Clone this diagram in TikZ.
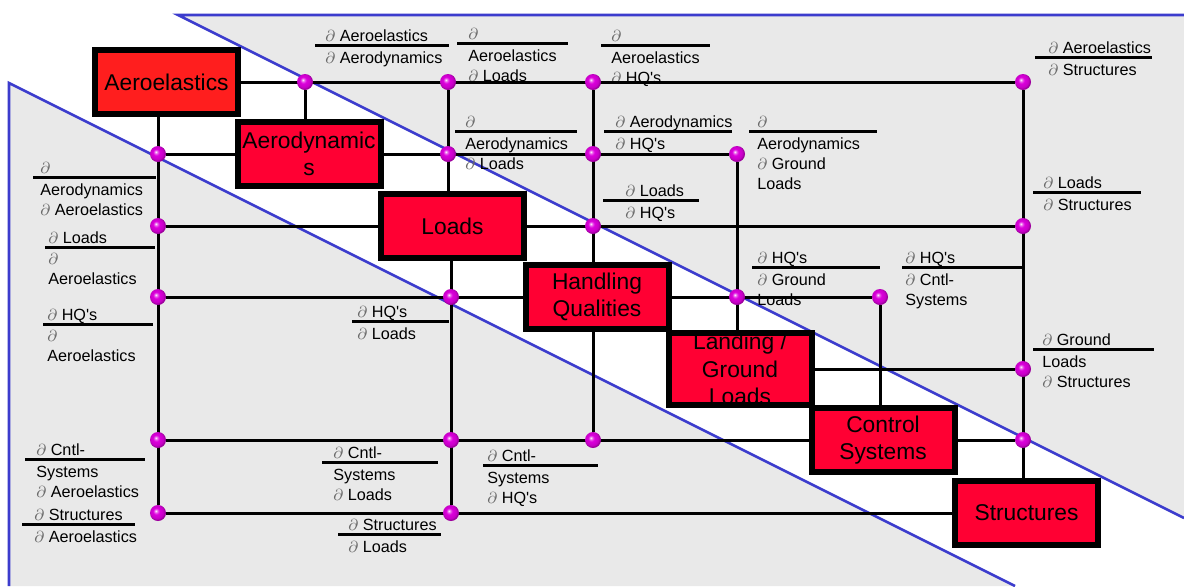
\documentclass[tikz,border=0pt]{standalone}
\usepackage{fontspec}
\setmainfont{Liberation Sans}
\usetikzlibrary{positioning}

\definecolor{sheetgray}{RGB}{233,233,233}
\definecolor{edgeblue}{RGB}{60,60,205}
\definecolor{aerored}{RGB}{255,30,30}
\definecolor{blockred}{RGB}{255,0,51}
\definecolor{dotpink}{RGB}{220,0,220}
\definecolor{partgray}{RGB}{105,105,105}

\pgfdeclareradialshading{jointball}{\pgfpoint{-7bp}{7bp}}{%
  color(0bp)=(white); color(4bp)=(dotpink!55!white); color(10bp)=(dotpink);
  color(21bp)=(dotpink!90!black); color(25bp)=(dotpink!70!black);
  color(50bp)=(dotpink!70!black)}

\pgfdeclarelayer{back}
\pgfdeclarelayer{wires}
\pgfsetlayers{back,wires,main}

\newcommand{\dpart}{\textcolor{partgray}{$\partial$}}
\newcommand{\HQs}{HQ\textquotesingle s}
% bar from #2 to #3 at height #4, text starting at #5
\newcommand{\pdlabel}[7]{%
  \draw[fracbar] (#2,#4) -- (#3,#4);
  \node[pdnum] (#1n) at (#5,#4) {#6};
  \node[pdden] (#1d) at (#5,#4) {#7};}

\begin{document}
\begin{tikzpicture}[x=0.5pt, y=-0.5pt,
    block/.style={draw=black, line width=3pt, fill=blockred, minimum width=71.5pt,
      minimum height=32.3pt, inner sep=0pt, align=center,
      font=\fontsize{11.4}{13.8}\selectfont},
    wire/.style={line width=1.5pt},
    joint/.style={circle, inner sep=0pt, minimum size=8pt, shading=jointball},
    fracbar/.style={line width=1.5pt},
    pdnum/.style={anchor=base west, inner sep=0pt, yshift=1.6pt, font=\fontsize{8.1}{10}\selectfont},
    pdden/.style={anchor=north west, inner sep=0pt, yshift=-3.2pt, align=left,
      font=\fontsize{8.1}{10}\selectfont},
    rim/.style={draw=edgeblue, line width=1.3pt}]
  \useasboundingbox (0,0) rectangle (1184,586);

  % the disciplines
  \node[block, fill=aerored] (aer) at (166.5,82) {Aeroelastics};
  \node[block] (aerd) at (309,154) {Aerodynamic\\s};
  \node[block] (loads) at (452.5,226) {Loads};
  \node[block] (hq) at (597,297) {Handling\\Qualities};
  \node[block] (land) at (740,369) {Landing /\\Ground\\Loads};
  \node[block] (ctrl) at (883,440) {Control\\Systems};
  \node[block] (struct) at (1026.5,513) {Structures};

  % couplings above the diagonal
  \node[joint] (j01) at (305,82) {};
  \node[joint] (j02) at (448,82) {};
  \node[joint] (j03) at (593,82) {};
  \node[joint] (j06) at (1023,82) {};
  \node[joint] (j12) at (448,154) {};
  \node[joint] (j13) at (593,154) {};
  \node[joint] (j14) at (737,154) {};
  \node[joint] (j23) at (593,226) {};
  \node[joint] (j26) at (1023,226) {};
  \node[joint] (j34) at (737,297) {};
  \node[joint] (j35) at (880,297) {};
  \node[joint] (j46) at (1023,369) {};
  \node[joint] (j56) at (1023,440) {};
  % couplings below the diagonal
  \node[joint] (j10) at (158,154) {};
  \node[joint] (j20) at (158,226) {};
  \node[joint] (j30) at (158,297) {};
  \node[joint] (j32) at (451,297) {};
  \node[joint] (j50) at (158,440) {};
  \node[joint] (j52) at (451,440) {};
  \node[joint] (j53) at (593,440) {};
  \node[joint] (j60) at (158,513) {};
  \node[joint] (j62) at (451,513) {};

  \begin{pgfonlayer}{back}
    \fill[sheetgray] (178,15) -- (1184,15) -- (1184,518) -- cycle;
    \fill[sheetgray] (9,83) -- (1015,586) -- (9,586) -- cycle;
    \draw[rim] (1184,15) -- (178,15) -- (1184,518);
    \draw[rim] (9,586) -- (9,83) -- (1015,586);

    \pdlabel{l01}{315}{449}{45}{325}{\dpart{} Aeroelastics}{\dpart{} Aerodynamics}
    \pdlabel{l02}{457}{568}{43}{468}{\dpart}{Aeroelastics\\\dpart{} Loads}
    \pdlabel{l03}{601}{710}{45}{611}{\dpart}{Aeroelastics\\\dpart{} \HQs}
    \pdlabel{l06}{1035}{1152}{57}{1048}{\dpart{} Aeroelastics}{\dpart{} Structures}
    \pdlabel{l12}{455}{577}{131}{465}{\dpart}{Aerodynamics\\\dpart{} Loads}
    \pdlabel{l13}{604}{732}{131}{615}{\dpart{} Aerodynamics}{\dpart{} \HQs}
    \pdlabel{l14}{749}{877}{131}{757}{\dpart}{Aerodynamics\\\dpart{} Ground\\Loads}
    \pdlabel{l23}{603}{699}{200}{625}{\dpart{} Loads}{\dpart{} \HQs}
    \pdlabel{l26}{1033}{1141}{192}{1043}{\dpart{} Loads}{\dpart{} Structures}
    \pdlabel{l34}{752}{880}{267}{757}{\dpart{} \HQs}{\dpart{} Ground\\Loads}
    \pdlabel{l35}{902}{1023}{267}{905}{\dpart{} \HQs}{\dpart{} Cntl-\\Systems}
    \pdlabel{l46}{1033}{1154}{349}{1042}{\dpart{} Ground}{Loads\\\dpart{} Structures}
    \pdlabel{l10}{33}{156}{177}{40}{\dpart}{Aerodynamics\\\dpart{} Aeroelastics}
    \pdlabel{l20}{45}{155}{247}{48}{\dpart{} Loads}{\dpart\\Aeroelastics}
    \pdlabel{l30}{43}{153}{324}{47}{\dpart{} \HQs}{\dpart\\Aeroelastics}
    \pdlabel{l32}{352}{449}{321}{357}{\dpart{} \HQs}{\dpart{} Loads}
    \pdlabel{l50}{25}{145}{459}{36}{\dpart{} Cntl-}{Systems\\\dpart{} Aeroelastics}
    \pdlabel{l52}{322}{438}{462}{333}{\dpart{} Cntl-}{Systems\\\dpart{} Loads}
    \pdlabel{l53}{483}{598}{465}{487}{\dpart{} Cntl-}{Systems\\\dpart{} \HQs}
    \pdlabel{l60}{22}{135}{524}{34}{\dpart{} Structures}{\dpart{} Aeroelastics}
    \pdlabel{l62}{338}{441}{534}{348}{\dpart{} Structures}{\dpart{} Loads}
  \end{pgfonlayer}

  \begin{pgfonlayer}{wires}
    % feed forward
    \draw[wire] (aer.east) -- (j06);
    \draw[wire] (aerd.east) -- (j14);
    \draw[wire] (loads.east) -- (j26);
    \draw[wire] (hq.east) -- (j35);
    \draw[wire] (land.east) -- (j46);
    \draw[wire] (ctrl.east) -- (j56);
    \draw[wire] (j01) -- (j01 |- aerd.north);
    \draw[wire] (j02) -- (j02 |- loads.north);
    \draw[wire] (j03) -- (j03 |- hq.north);
    \draw[wire] (j14) -- (j14 |- land.north);
    \draw[wire] (j35) -- (j35 |- ctrl.north);
    \draw[wire] (j06) -- (j06 |- struct.north);
    % feed back
    \draw[wire] (j10) -- (aerd.west);
    \draw[wire] (j20) -- (loads.west);
    \draw[wire] (j30) -- (hq.west);
    \draw[wire] (j50) -- (ctrl.west);
    \draw[wire] (j60) -- (struct.west);
    \draw[wire] (aer.south -| j60) -- (j60);
    \draw[wire] (loads.south -| j62) -- (j62);
    \draw[wire] (hq.south -| j53) -- (j53);
  \end{pgfonlayer}
\end{tikzpicture}
\end{document}
